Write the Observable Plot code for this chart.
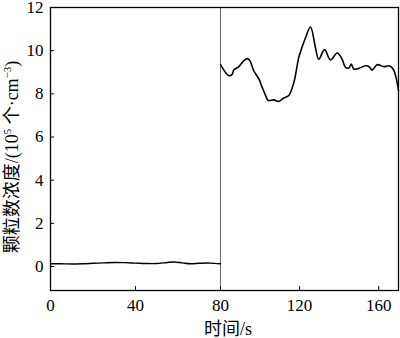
<!DOCTYPE html>
<html><head><meta charset="utf-8">
<script src="https://cdn.jsdelivr.net/npm/d3@7"></script>
<script src="https://cdn.jsdelivr.net/npm/@observablehq/plot@0.6"></script>
<style>body{margin:0;background:#fff}</style>
</head><body><div id="chart"></div>
<script>
const timeBefore = [0,5,10,15,20,25,30,35,40,45,50,55,58,62,66,70,75,80];
const concBefore = [0.13,0.13,0.12,0.13,0.15,0.17,0.19,0.18,0.16,0.14,0.14,0.19,0.21,0.17,0.13,0.15,0.16,0.13];
const timeAfter = [80,84.2,85.9,86.7,89.3,91.8,93.5,94.8,96.8,99.4,101.1,102.8,104.1,106.9,109.5,112.0,114.5,117.1,119.6,122.1,123.0,125.5,128.0,129.7,132.6,135.6,139.0,141.5,143.2,144.9,146.1,147.4,149.9,153.3,155.0,156.7,159.2,162.6,165.1,167.3,170];
const concAfter = [9.35,8.84,8.9,9.1,9.26,9.54,9.63,9.54,9.07,8.69,8.3,7.92,7.69,7.72,7.65,7.81,7.92,8.53,9.69,10.38,10.6,11.1,10.15,9.6,10.05,9.57,9.89,9.6,9.23,9.2,9.38,9.15,9.18,9.3,9.27,9.1,9.35,9.26,9.3,9.15,8.15];
const xTicks = [0,40,80,120,160];
const yTicks = [0,2,4,6,8,10,12];
const switchTime = [80];
const xLabel = "时间/s";

const before = timeBefore.map((t,i)=>({t, c: concBefore[i]}));
const after = timeAfter.map((t,i)=>({t, c: concAfter[i]}));

const serif = '"Liberation Serif","Times New Roman",serif';
const plot = Plot.plot({
  width: 400, height: 338,
  marginLeft: 50, marginRight: 2, marginTop: 7, marginBottom: 48,
  style: {fontFamily: serif, fontSize: "17px", color: "#000", background: "#fff", overflow: "visible"},
  x: {type: "linear", domain: [0, 80, 170], range: [50, 220, 398]},
  y: {domain: [-1.11, 12]},
  marks: [
    Plot.ruleX(switchTime, {stroke: "#666", strokeWidth: 1}),
    Plot.line(before, {x: "t", y: "c", stroke: "#000", strokeWidth: 1.4, curve: "catmull-rom"}),
    Plot.line(after, {x: "t", y: "c", stroke: "#000", strokeWidth: 1.6, curve: "catmull-rom"}),
    Plot.axisX({ticks: xTicks, tickSize: -4, tickPadding: 12, label: null, fontFamily: serif, fontSize: 17, tickFormat: d => String(d)}),
    Plot.axisY({ticks: yTicks, tickSize: -4, tickPadding: 11, label: null, fontFamily: serif, fontSize: 17, tickFormat: d => String(d)}),
    Plot.frame({stroke: "#000", strokeWidth: 1.3})
  ]
});
document.getElementById("chart").appendChild(plot);

const svg = d3.select(plot);
const ff = '"Liberation Serif","Noto Sans CJK SC",serif';
svg.append("text")
  .attr("x", 228).attr("y", 335)
  .attr("text-anchor", "middle")
  .attr("font-family", ff).attr("font-size", 18).attr("fill", "#000")
  .text(xLabel);

const yl = svg.append("text")
  .attr("transform", "translate(18,157) rotate(-90)")
  .attr("text-anchor", "middle")
  .attr("font-family", ff).attr("font-size", 18).attr("fill", "#000");
yl.append("tspan").text("颗粒数浓度/(10");
yl.append("tspan").attr("font-size", 11).attr("dy", "-7").text("5");
yl.append("tspan").attr("dy", "7").text(" 个·cm");
yl.append("tspan").attr("font-size", 11).attr("dy", "-7").text("−3");
yl.append("tspan").attr("dy", "7").text(")");
</script>
</body></html>
